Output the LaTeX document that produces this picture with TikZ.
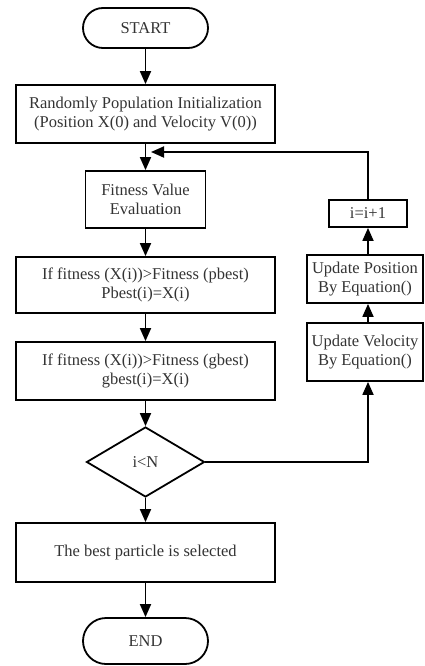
\documentclass[tikz,border=0pt]{standalone}
\usepackage{fontspec}
\setmainfont{Liberation Serif}
\usetikzlibrary{shapes.geometric,arrows.meta}
\tikzset{
	box/.style={draw,line width=1.8pt,rectangle,align=center,inner sep=2pt,text=black!80},
	term/.style={box,rounded corners=20pt},
	cond/.style={draw,line width=1.8pt,diamond,aspect=1.7,inner sep=0pt,text=black!80},
	arr/.style={line width=1.8pt,-{Triangle[length=13pt,width=11pt]}},
}
\begin{document}
\begin{tikzpicture}[x=1pt,y=-1pt,font=\fontsize{16.5}{19.5}\selectfont]
	\useasboundingbox (0,0) rectangle (425,666);
	\node[term,minimum width=125pt,minimum height=40pt] (start) at (145.5,28) {START};
	\node[box,minimum width=259pt,minimum height=58pt] (init) at (145.5,114) {Randomly Population Initialization\\(Position X(0) and Velocity V(0))};
	\node[box,minimum width=120pt,minimum height=57pt] (fit) at (145.5,199.5) {Fitness Value\\Evaluation};
	\node[box,minimum width=259pt,minimum height=56pt] (pb) at (145.5,285) {If fitness (X(i))>Fitness (pbest)\\Pbest(i)=X(i)};
	\node[box,minimum width=259pt,minimum height=58pt] (gb) at (145.5,371) {If fitness (X(i))>Fitness (gbest)\\gbest(i)=X(i)};
	\node[cond,minimum width=118pt,minimum height=70pt] (cmp) at (145.5,462) {i<N};
	\node[box,minimum width=259pt,minimum height=59pt] (sel) at (145.5,552.5) {The best particle is selected};
	\node[term,minimum width=125pt,minimum height=46pt,rounded corners=23pt] (stop) at (145.5,641) {END};
	\node[box,minimum width=78pt,minimum height=27pt] (inc) at (368,213.5) {i=i+1};
	\node[box,minimum width=116pt,minimum height=48pt] (pos) at (365,279) {Update Position\\By Equation()};
	\node[box,minimum width=116pt,minimum height=58pt] (vel) at (365,352) {Update Velocity\\By Equation()};
	\coordinate (back) at (151,152);
	\draw[arr] (start) -- (init);
	\draw[arr] (init) -- (fit);
	\draw[arr] (fit) -- (pb);
	\draw[arr] (pb) -- (gb);
	\draw[arr] (gb) -- (cmp);
	\draw[arr] (cmp) -- (sel);
	\draw[arr] (sel) -- (stop);
	\draw[arr] (cmp.east) -| (vel.south -| inc);
	\draw[arr] (vel.north -| inc) -- (pos.south -| inc);
	\draw[arr] (pos.north -| inc) -- (inc.south);
	\draw[arr] (inc.north) |- (back);
\end{tikzpicture}
\end{document}
